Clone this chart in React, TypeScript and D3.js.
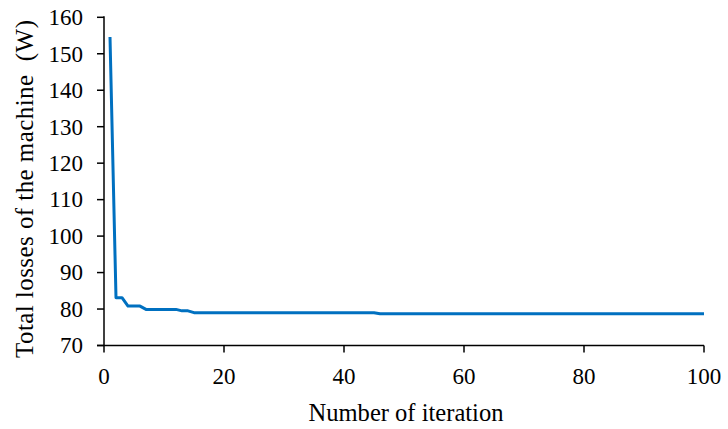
import React from "react";
import * as d3 from "d3";

// Total machine losses after each optimisation iteration (W)
const iterations: number[] = [
  1, 2, 3, 4, 5, 6, 7, 8, 9, 10,
  11, 12, 13, 14, 15, 16, 17, 18, 19, 20,
  21, 22, 23, 24, 25, 26, 27, 28, 29, 30,
  31, 32, 33, 34, 35, 36, 37, 38, 39, 40,
  41, 42, 43, 44, 45, 46, 47, 48, 49, 50,
  51, 52, 53, 54, 55, 56, 57, 58, 59, 60,
  61, 62, 63, 64, 65, 66, 67, 68, 69, 70,
  71, 72, 73, 74, 75, 76, 77, 78, 79, 80,
  81, 82, 83, 84, 85, 86, 87, 88, 89, 90,
  91, 92, 93, 94, 95, 96, 97, 98, 99, 100,
];
const losses: number[] = [
  154.6, 83.1, 83.1, 80.8, 80.8, 80.8, 79.9, 79.9, 79.9, 79.9,
  79.9, 79.9, 79.5, 79.5, 79.0, 79.0, 79.0, 79.0, 79.0, 79.0,
  79.0, 79.0, 79.0, 79.0, 79.0, 79.0, 79.0, 79.0, 79.0, 79.0,
  79.0, 79.0, 79.0, 79.0, 79.0, 79.0, 79.0, 79.0, 79.0, 79.0,
  79.0, 79.0, 79.0, 79.0, 79.0, 78.7, 78.7, 78.7, 78.7, 78.7,
  78.7, 78.7, 78.7, 78.7, 78.7, 78.7, 78.7, 78.7, 78.7, 78.7,
  78.7, 78.7, 78.7, 78.7, 78.7, 78.7, 78.7, 78.7, 78.7, 78.7,
  78.7, 78.7, 78.7, 78.7, 78.7, 78.7, 78.7, 78.7, 78.7, 78.7,
  78.7, 78.7, 78.7, 78.7, 78.7, 78.7, 78.7, 78.7, 78.7, 78.7,
  78.7, 78.7, 78.7, 78.7, 78.7, 78.7, 78.7, 78.7, 78.7, 78.7,
];
const xTicks: number[] = [0, 20, 40, 60, 80, 100];
const yTicks: number[] = [70, 80, 90, 100, 110, 120, 130, 140, 150, 160];
const xTitle = "Number of iteration";
const yTitle = "Total losses of the machine  (W)";

const W = 728;
const H = 429;
const left = 104;
const right = 704;
const top = 17.3;
const bottom = 345.5;
const serif = '"Liberation Serif", "Times New Roman", serif';
const tickStyle: React.CSSProperties = { fontFamily: serif, fontSize: "23px" };
const titleStyle: React.CSSProperties = {
  fontFamily: serif,
  fontSize: "25px",
  whiteSpace: "pre",
};

export default function App() {
  const x = d3.scaleLinear().domain([0, 100]).range([left, right]);
  const y = d3.scaleLinear().domain([70, 160]).range([bottom, top]);
  const pts = iterations.map((it, i) => [it, losses[i]] as [number, number]);
  const line = d3
    .line<[number, number]>()
    .x((d) => x(d[0]))
    .y((d) => y(d[1]));

  return (
    <svg
      width={W}
      height={H}
      style={{ position: "absolute", left: 0, top: 0, background: "#fff" }}
    >
      <rect width={W} height={H} fill="#fff" />
      {/* y axis */}
      <line x1={left} x2={left} y1={top - 1} y2={bottom} stroke="#000" strokeWidth={1.5} />
      {yTicks.map((t) => (
        <g key={"y" + t}>
          <line x1={left - 7} x2={left} y1={y(t)} y2={y(t)} stroke="#000" strokeWidth={1.5} />
          <text
            x={left - 21}
            y={y(t)}
            dy="0.34em"
            textAnchor="end"
            style={tickStyle}
            fill="#000"
          >
            {t}
          </text>
        </g>
      ))}
      {/* x axis */}
      <line x1={left - 7} x2={right} y1={bottom} y2={bottom} stroke="#000" strokeWidth={1.5} />
      {xTicks.map((t) => (
        <g key={"x" + t}>
          <line x1={x(t)} x2={x(t)} y1={bottom} y2={bottom + 7} stroke="#000" strokeWidth={1.5} />
          <text x={x(t)} y={383.5} textAnchor="middle" style={tickStyle} fill="#000">
            {t}
          </text>
        </g>
      ))}
      <path d={line(pts) ?? ""} fill="none" stroke="#0070C0" strokeWidth={3} strokeLinejoin="round" />
      <text
        x={406}
        y={421}
        textAnchor="middle"
        textLength={195}
        lengthAdjust="spacingAndGlyphs"
        style={titleStyle}
        fill="#000"
      >
        {xTitle}
      </text>
      <text
        transform={`translate(33, 189) rotate(-90)`}
        textAnchor="middle"
        textLength={338}
        lengthAdjust="spacing"
        style={titleStyle}
        fill="#000"
      >
        {yTitle}
      </text>
    </svg>
  );
}
